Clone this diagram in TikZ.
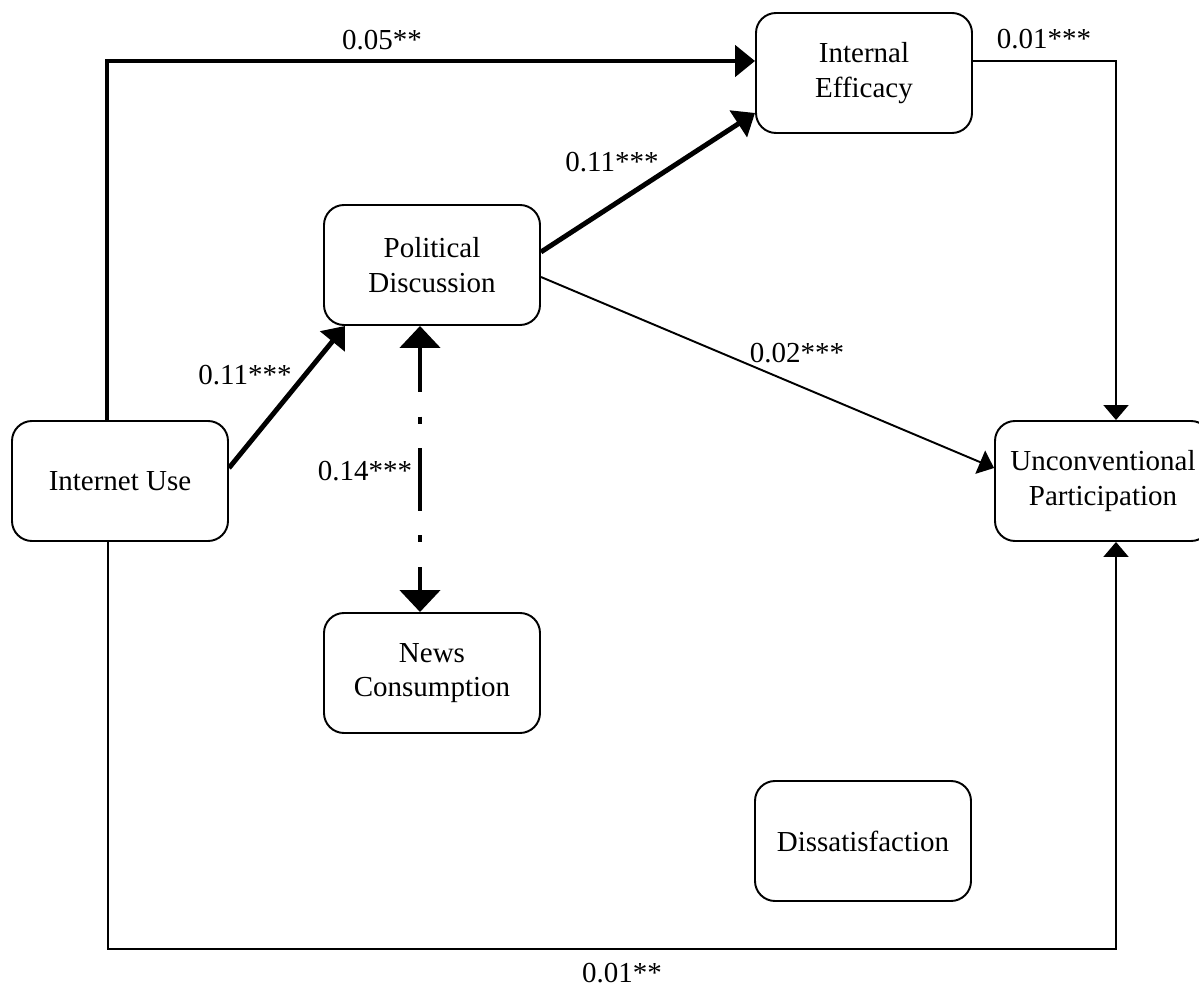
\documentclass[tikz,border=0pt]{standalone}
\usepackage{fontspec}
\setmainfont{Liberation Serif}
\usepackage{tikz}
\usetikzlibrary{arrows.meta, positioning}

\begin{document}
\begin{tikzpicture}[
    varbox/.style={draw, line width=1.1pt, rounded corners=0.4cm, minimum width=4.32cm,
        minimum height=2.4cm, inner sep=0pt, align=center,
        font=\fontsize{16.5}{19.8}\selectfont},
    coef/.style={inner sep=0pt, font=\fontsize{16.5}{19.8}\selectfont},
    thickarr/.style={line width=2.8pt, -{Triangle[length=0.4cm, width=0.62cm]}},
    thinarr/.style={line width=1.1pt, -{Triangle[length=0.3cm, width=0.5cm]}},
    dasharr/.style={line width=2.8pt, dash pattern=on 35.7pt off 14pt on 4pt off 14pt,
        dash phase=10pt, {Triangle[length=0.44cm, width=0.8cm]}-{Triangle[length=0.44cm, width=0.8cm]}}
]
    \useasboundingbox (0,0) rectangle (23.98,-19.78);

    % variables
    \node[varbox] (iu) at (2.40,-9.62) {Internet Use};
    \node[varbox] (pd) at (8.64,-5.30) {Political\\Discussion};
    \node[varbox] (ie) at (17.28,-1.46) {Internal\\Efficacy};
    \node[varbox] (up) at (22.06,-9.62) {Unconventional\\Participation};
    \node[varbox] (nc) at (8.64,-13.46) {News\\Consumption};
    \node[varbox] (ds) at (17.26,-16.82) {Dissatisfaction};

    % corners of the elbow paths
    \coordinate (topL) at (2.14,-1.22);
    \coordinate (topR) at (22.32,-1.22);
    \coordinate (botL) at (2.16,-18.98);
    \coordinate (botR) at (22.32,-18.98);

    % paths
    \draw[thickarr, line join=miter] (iu.north -| topL) -- (topL) -- (topL -| ie.west);
    \draw[thickarr] ([yshift=0.26cm]iu.east) -- ([xshift=0.44cm]pd.south west);
    \draw[thickarr] ([yshift=0.26cm]pd.east) -- ([yshift=0.42cm]ie.south west);
    \draw[thinarr] ([yshift=-0.24cm]pd.east) -- ([yshift=0.26cm]up.west);
    \draw[thinarr] (ie.east |- topR) -- (topR) -- (up.north -| topR);
    \draw[thinarr] (iu.south -| botL) -- (botL) -- (botR) -- (up.south -| botR);
    \draw[dasharr] ([xshift=-0.24cm]pd.south) -- ([xshift=-0.24cm]nc.north);

    % coefficients
    \node[coef] (c1) at (7.64,-0.80) {0.05**};
    \node[coef] (c2) at (4.90,-7.50) {0.11***};
    \node[coef] (c3) at (12.24,-3.24) {0.11***};
    \node[coef] (c4) at (15.94,-7.06) {0.02***};
    \node[coef] (c5) at (20.88,-0.78) {0.01***};
    \node[coef] (c6) at (12.44,-19.46) {0.01**};
    \node[coef] (c7) at (7.30,-9.42) {0.14***};
\end{tikzpicture}
\end{document}
